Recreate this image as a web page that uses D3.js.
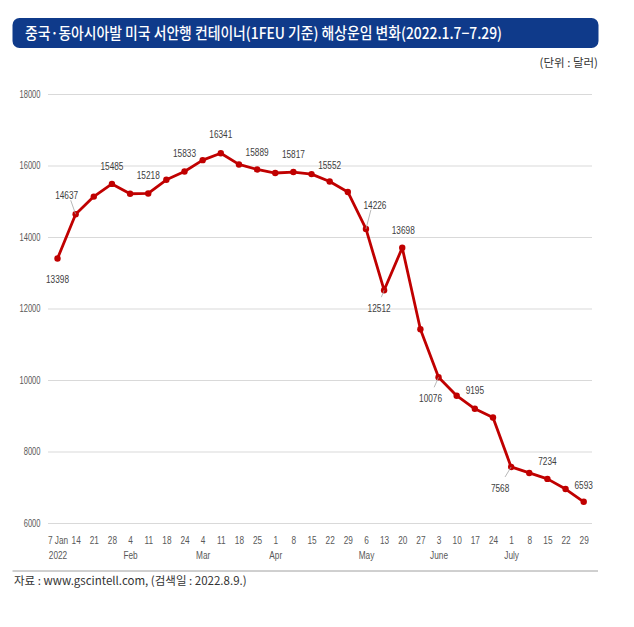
<!DOCTYPE html>
<html>
<head>
<meta charset="utf-8">
<script src="https://cdn.jsdelivr.net/npm/d3@7"></script>
<style>
  html, body { margin: 0; padding: 0; background: #ffffff; }
  svg { display: block; }
</style>
</head>
<body>
<svg id="chart" width="634" height="627"></svg>
<script>
// ---- data ----
const dayLabels = ["7 Jan","14","21","28","4","11","18","24","4","11","18","25","1","8","15","22","29","6","13","20","27","3","10","17","24","1","8","15","22","29"];
const monthLabels = ["2022","","","","Feb","","","","Mar","","","","Apr","","","","","May","","","","June","","","","July","","","",""];
const freight = [13398,14637,15130,15485,15210,15218,15600,15833,16150,16341,16030,15889,15790,15817,15760,15552,15260,14226,12512,13698,11420,10076,9560,9195,8950,7568,7400,7234,6950,6593];
const labelled = [0,1,3,5,7,9,11,13,15,17,18,19,21,23,25,27,29];
const yTicks = [6000,8000,10000,12000,14000,16000,18000];

const titleText = "중국·동아시아발 미국 서안행 컨테이너(1FEU 기준) 해상운임 변화(2022.1.7−7.29)";
const unitText = "(단위 : 달러)";
const sourceText = "자료 : www.gscintell.com, (검색일 : 2022.8.9.)";

// ---- setup ----
const svg = d3.select("#chart");
const narrow = "'Liberation Sans',Arial,sans-serif";
const kr = "'Noto Sans CJK KR','Noto Sans',sans-serif";
const SX = 0.72; // horizontal condensing for narrow numerals

const x = d3.scalePoint().domain(d3.range(freight.length)).range([57.5, 583.7]);
const y = d3.scaleLinear().domain([6000, 18000]).range([523, 94]);

// title bar
svg.append("rect").attr("x", 12.5).attr("y", 18).attr("width", 586).attr("height", 30)
  .attr("rx", 7).attr("fill", "#0f3a8a");
svg.append("text").attr("x", 25).attr("y", 38.5)
  .attr("font-family", kr).attr("font-weight", 500).attr("font-size", 15.5)
  .attr("fill", "#ffffff").attr("textLength", 477).attr("lengthAdjust", "spacingAndGlyphs")
  .text(titleText);

// unit
svg.append("text").attr("x", 598).attr("y", 67).attr("text-anchor", "end")
  .attr("font-family", kr).attr("font-size", 11.5).attr("fill", "#333")
  .text(unitText);

// gridlines + y axis labels
const yAxis = d3.axisLeft(y).tickValues(yTicks).tickSize(-(592 - 48)).tickPadding(8)
  .tickFormat(d3.format("d"));
const gy = svg.append("g").attr("transform", "translate(48,0)").call(yAxis);
gy.select(".domain").remove();
gy.selectAll(".tick line").attr("stroke", "#d9d9d9").attr("stroke-width", 1);
gy.selectAll(".tick text").attr("font-family", narrow).attr("font-size", 10.5)
  .attr("fill", "#595959").attr("x", -7.5 / SX).attr("transform", `scale(${SX},1)`);

// x axis labels
function xRow(fmt, yPos) {
  const ax = d3.axisBottom(x).tickSize(0).tickPadding(0).tickFormat(fmt);
  const g = svg.append("g").attr("transform", `translate(0,${yPos})`).call(ax);
  g.select(".domain").remove();
  g.selectAll(".tick text").attr("font-family", narrow).attr("font-size", 11.5)
    .attr("fill", "#595959").attr("transform", `scale(${SX},1)`);
}
xRow(i => dayLabels[i], 536);
xRow(i => monthLabels[i], 550.5);

// line
const line = d3.line().x((d, i) => x(i)).y(d => y(d));
svg.append("path").datum(freight).attr("d", line)
  .attr("fill", "none").attr("stroke", "#c00000").attr("stroke-width", 2.8)
  .attr("stroke-linejoin", "round");
svg.append("g").selectAll("circle").data(freight).join("circle")
  .attr("cx", (d, i) => x(i)).attr("cy", d => y(d)).attr("r", 3.2)
  .attr("fill", "#c00000");

// data labels: offsets (dx, dy) relative to point, and optional leader lines
const labelOffsets = {
  0: [0, 20], 1: [-9, -19], 3: [0, -18], 5: [0, -18], 7: [0, -18], 9: [0, -19],
  11: [0, -17], 13: [0, -18], 15: [0, -17], 17: [9, -24], 18: [-5, 18], 19: [1, -18],
  21: [-8, 21], 23: [0, -19], 25: [-11, 21], 27: [0, -18], 29: [0, -17]
};
const leaders = [1, 17, 21, 25, 18];
const lg = svg.append("g");
leaders.forEach(i => {
  const o = labelOffsets[i];
  const px = x(i), py = y(freight[i]);
  const ex = px + o[0] * 0.55, ey = py + (o[1] > 0 ? o[1] - 11 : o[1] + 5);
  lg.append("line").attr("x1", px).attr("y1", py).attr("x2", ex).attr("y2", ey)
    .attr("stroke", "#a6a6a6").attr("stroke-width", 0.8);
});
svg.append("g").selectAll("text").data(labelled).join("text")
  .attr("transform", i => `translate(${x(i) + labelOffsets[i][0]},${y(freight[i]) + labelOffsets[i][1] + 4}) scale(${SX},1)`)
  .attr("text-anchor", "middle")
  .attr("font-family", narrow).attr("font-size", 11.5).attr("fill", "#404040")
  .text(i => freight[i]);

// bottom rule and source
svg.append("line").attr("x1", 12.5).attr("x2", 598).attr("y1", 571).attr("y2", 571)
  .attr("stroke", "#a0a0a0").attr("stroke-width", 1);
svg.append("text").attr("x", 14).attr("y", 585)
  .attr("font-family", kr).attr("font-size", 11.5).attr("fill", "#333")
  .text(sourceText);
</script>
</body>
</html>
